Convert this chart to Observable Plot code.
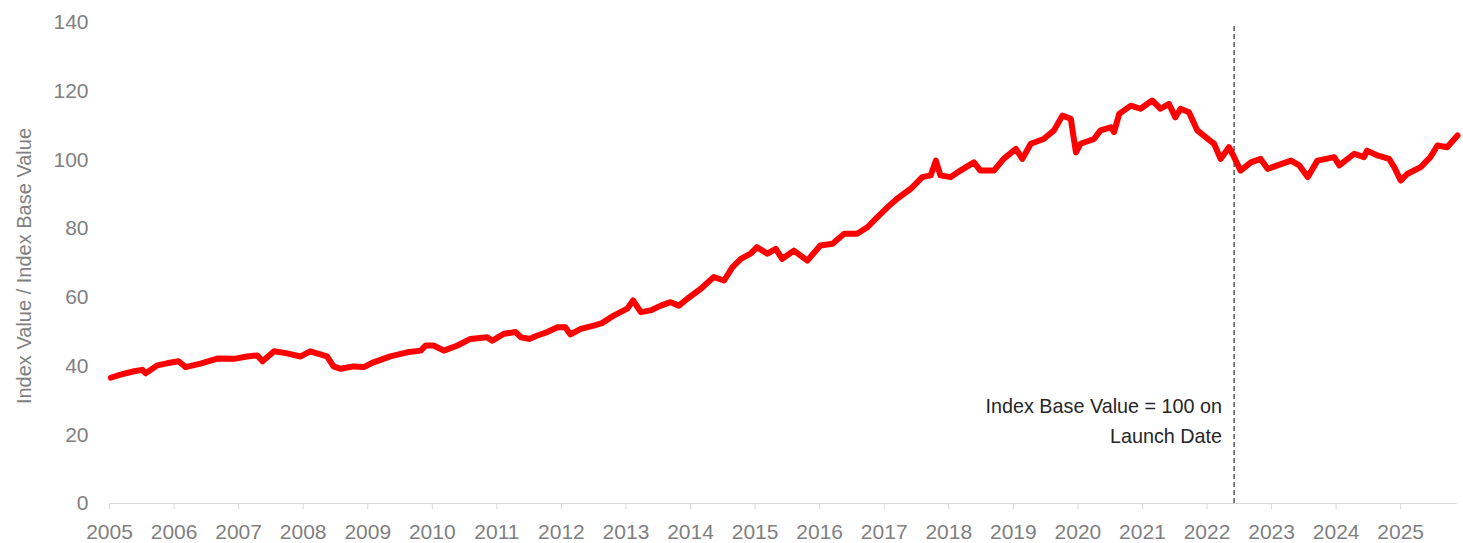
<!DOCTYPE html>
<html>
<head>
<meta charset="utf-8">
<script src="https://cdn.jsdelivr.net/npm/d3@7"></script>
<script src="https://cdn.jsdelivr.net/npm/@observablehq/plot@0.6"></script>
<style>
  html, body { margin: 0; padding: 0; background: #ffffff; }
  #chart svg { display: block; }
</style>
</head>
<body>
<div id="chart"></div>
<script>
// Time in decimal years
const years = [
  2005.02, 2005.17, 2005.38, 2005.51, 2005.56, 2005.74, 2005.89, 2006.07, 2006.18, 2006.41,
  2006.67, 2006.93, 2007.13, 2007.29, 2007.37, 2007.55, 2007.75, 2007.96, 2008.11, 2008.37,
  2008.47, 2008.58, 2008.78, 2008.94, 2009.09, 2009.35, 2009.61, 2009.82, 2009.90,
  2010.02, 2010.18, 2010.39, 2010.59, 2010.85, 2010.93, 2011.11, 2011.29, 2011.37, 2011.50,
  2011.63, 2011.78, 2011.94, 2012.06, 2012.14, 2012.30, 2012.50, 2012.63, 2012.81, 2013.02,
  2013.11, 2013.23, 2013.38, 2013.54, 2013.69, 2013.82, 2013.95, 2014.16, 2014.36, 2014.52,
  2014.65, 2014.78, 2014.93,
  2015.03, 2015.19, 2015.32, 2015.42, 2015.60, 2015.81, 2016.01, 2016.20, 2016.38, 2016.58,
  2016.74, 2016.89, 2017.05, 2017.20, 2017.41, 2017.59, 2017.72, 2017.80, 2017.87, 2018.03,
  2018.18, 2018.39, 2018.49, 2018.70, 2018.85, 2019.04, 2019.14, 2019.27, 2019.47, 2019.63,
  2019.76, 2019.89, 2019.97, 2020.04, 2020.25, 2020.35, 2020.51, 2020.56, 2020.64, 2020.82,
  2020.97, 2021.15, 2021.28, 2021.41, 2021.51, 2021.59, 2021.72, 2021.85, 2021.95, 2022.11,
  2022.21, 2022.34, 2022.42, 2022.52, 2022.68, 2022.83, 2022.94, 2023.09, 2023.30, 2023.43,
  2023.56, 2023.71, 2023.97, 2024.05, 2024.28, 2024.43, 2024.48, 2024.64, 2024.82, 2024.90,
  2025.00, 2025.10, 2025.31, 2025.46, 2025.57, 2025.72, 2025.88
];
// Index value / index base value (x100)
const indexValues = [
  36.6, 37.5, 38.5, 38.9, 37.9, 40.2, 40.8, 41.4, 39.7, 40.7,
  42.2, 42.1, 42.8, 43.1, 41.4, 44.3, 43.7, 42.8, 44.3, 42.8,
  39.9, 39.2, 39.9, 39.7, 41.1, 42.8, 44.0, 44.5, 46.0,
  46.0, 44.5, 46.0, 47.9, 48.4, 47.4, 49.4, 49.9, 48.4, 47.9,
  48.9, 49.9, 51.3, 51.3, 49.2, 50.8, 51.8, 52.5, 54.7, 56.7,
  59.1, 55.7, 56.2, 57.6, 58.6, 57.6, 59.6, 62.5, 65.9, 64.9,
  68.8, 71.2, 72.7,
  74.6, 72.7, 74.1, 71.2, 73.6, 70.7, 75.1, 75.6, 78.5, 78.5,
  80.4, 83.3, 86.2, 88.7, 91.6, 95.0, 95.5, 99.8, 95.5, 95.0,
  96.9, 99.3, 96.9, 96.9, 100.3, 103.2, 100.3, 104.7, 106.1, 108.6,
  112.9, 112.0, 102.2, 104.7, 106.1, 108.6, 109.5, 108.1, 113.4, 115.8,
  114.9, 117.3, 114.9, 116.3, 112.4, 114.9, 113.9, 108.6, 107.1, 104.7,
  100.3, 103.7, 100.8, 96.9, 99.3, 100.3, 97.4, 98.4, 99.8, 98.4,
  95.0, 99.8, 100.8, 98.4, 101.8, 100.8, 102.7, 101.3, 100.3, 97.9,
  94.0, 95.9, 97.9, 100.8, 104.2, 103.7, 107.1
];
const xTicks = [2005, 2006, 2007, 2008, 2009, 2010, 2011, 2012, 2013, 2014, 2015,
                2016, 2017, 2018, 2019, 2020, 2021, 2022, 2023, 2024, 2025];
const yTicks = [0, 20, 40, 60, 80, 100, 120, 140];
const launchYear = 2022.42;
const yTitle = "Index Value / Index Base Value";
const noteText = "Index Base Value = 100 on\nLaunch Date";

const series = years.map((t, i) => ({t, v: indexValues[i]}));

const chart = Plot.plot({
  width: 1463,
  height: 543,
  marginLeft: 109,
  marginRight: 6,
  marginTop: 22,
  marginBottom: 40,
  style: {fontFamily: "'Liberation Sans', Arial, sans-serif", background: "#ffffff"},
  x: {type: "linear", domain: [2005, 2025.88]},
  y: {domain: [0, 140]},
  marks: [
    Plot.ruleY([0], {stroke: "#d9d9d9", strokeWidth: 1.2}),
    Plot.axisX({ticks: xTicks, tickFormat: d => String(d), tickSize: 6, tickPadding: 15,
      fontSize: 21, color: "#7f7f7f", stroke: "#d9d9d9", label: null}),
    Plot.axisY({ticks: yTicks, tickSize: 0, tickPadding: 21, fontSize: 21,
      color: "#7f7f7f", label: null}),
    Plot.text([yTitle], {frameAnchor: "left", textAnchor: "middle", lineAnchor: "middle",
      dx: -85, dy: 3, rotate: -90, fontSize: 20, fill: "#7f7f7f", text: d => d}),
    Plot.ruleX([launchYear], {y1: 0, y2: 139.1, stroke: "#595959", strokeWidth: 1.5,
      strokeDasharray: "5,3"}),
    Plot.text([noteText], {x: launchYear, y: 24.7, text: d => d, textAnchor: "end",
      dx: -12, fontSize: 19.8, lineHeight: 1.52, fill: "#262626"}),
    Plot.line(series, {x: "t", y: "v", stroke: "#ff0000", strokeWidth: 6,
      strokeLinejoin: "round", strokeLinecap: "round"})
  ]
});
document.getElementById("chart").appendChild(chart);
</script>
</body>
</html>
